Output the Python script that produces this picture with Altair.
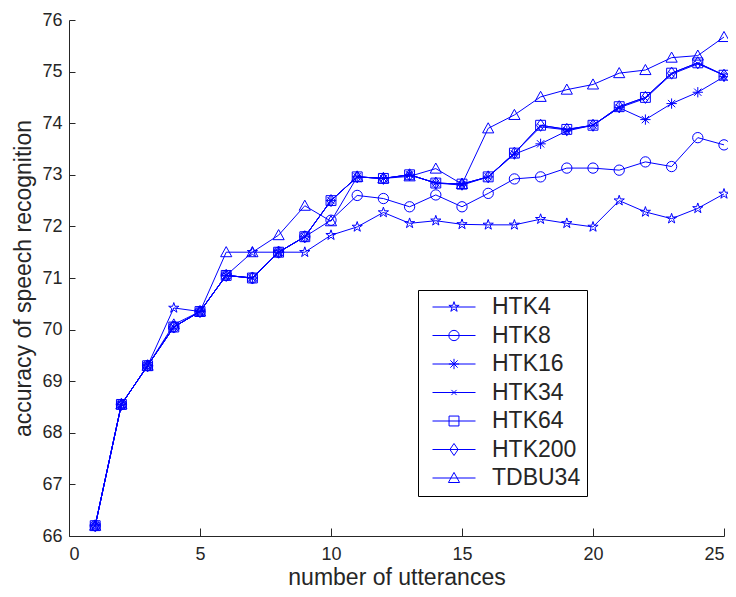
import altair as alt
import pandas as pd

utterances = list(range(1, 26))
series_names = ["HTK4", "HTK8", "HTK16", "HTK34", "HTK64", "HTK200", "TDBU34"]

htk4 = [66.2, 68.55, 69.3, 70.42, 70.35, 71.05, 71.5, 71.5, 71.5, 71.83, 71.99, 72.27, 72.06,
        72.11, 72.04, 72.03, 72.03, 72.14, 72.06, 71.99, 72.5, 72.28, 72.15, 72.35, 72.63]
htk8 = [66.2, 68.55, 69.3, 70.05, 70.35, 71.05, 71.0, 71.5, 71.8, 72.12, 72.6, 72.54, 72.38,
        72.61, 72.38, 72.64, 72.92, 72.96, 73.13, 73.13, 73.09, 73.25, 73.16, 73.72, 73.58]
htk16 = [66.2, 68.55, 69.3, 70.05, 70.35, 71.05, 71.0, 71.5, 71.8, 72.5, 72.96, 72.93, 73.0,
         72.84, 72.8, 72.96, 73.4, 73.6, 73.85, 73.96, 74.3, 74.07, 74.38, 74.6, 74.9]
htk34 = [66.2, 68.55, 69.3, 70.05, 70.35, 71.05, 71.0, 71.5, 71.8, 72.5, 72.96, 72.93, 73.0,
         72.84, 72.82, 72.96, 73.42, 73.93, 73.87, 73.96, 74.3, 74.48, 74.95, 75.15, 74.93]
htk64 = [66.2, 68.55, 69.3, 70.05, 70.35, 71.05, 71.0, 71.5, 71.8, 72.5, 72.96, 72.93, 73.0,
         72.84, 72.82, 72.96, 73.42, 73.96, 73.88, 73.96, 74.32, 74.5, 74.97, 75.17, 74.93]
htk200 = [66.2, 68.55, 69.3, 70.05, 70.35, 71.05, 71.0, 71.5, 71.8, 72.5, 72.96, 72.93, 73.0,
          72.84, 72.82, 72.96, 73.42, 73.96, 73.88, 73.96, 74.32, 74.5, 74.97, 75.17, 74.93]
tdbu34 = [66.2, 68.55, 69.3, 70.1, 70.35, 71.5, 71.5, 71.83, 72.4, 72.1, 72.96, 72.93, 72.97,
          73.12, 72.82, 73.9, 74.16, 74.51, 74.65, 74.75, 74.97, 75.03, 75.27, 75.31, 75.67]

x_ticks = [0, 5, 10, 15, 20, 25]
y_ticks = [66, 67, 68, 69, 70, 71, 72, 73, 74, 75, 76]

values = {"HTK4": htk4, "HTK8": htk8, "HTK16": htk16, "HTK34": htk34,
          "HTK64": htk64, "HTK200": htk200, "TDBU34": tdbu34}

line_names = [n + "_" for n in series_names]

rows = []
for name, lname in zip(series_names, line_names):
    for xv, yv in zip(utterances, values[name]):
        rows.append({"x": xv, "y": yv, "series": name, "series_line": lname})
df = pd.DataFrame(rows)

BLUE = "#0000ff"
AX = "#262626"
FONT = "Liberation Sans"

star = ("M0,-0.25L0.056,-0.077L0.238,-0.077L0.09,0.029L0.147,0.202L0,0.095"
        "L-0.147,0.202L-0.09,0.029L-0.238,-0.077L-0.056,-0.077Z")
circle = "M0.24,0A0.24,0.24,0,1,1,-0.24,0A0.24,0.24,0,1,1,0.24,0Z"
asterisk = "M0,-0.24L0,0.24M-0.24,0L0.24,0M-0.17,-0.17L0.17,0.17M-0.17,0.17L0.17,-0.17"
xmark = "M-0.12,-0.12L0.12,0.12M-0.12,0.12L0.12,-0.12"
square = "M-0.23,-0.23L0.23,-0.23L0.23,0.23L-0.23,0.23Z"
diamond = "M0,-0.28L0.19,0L0,0.28L-0.19,0Z"
triangle = "M0,-0.26L0.26,0.21L-0.26,0.21Z"
shape_paths = [star, circle, asterisk, xmark, square, diamond, triangle]

SYM = 1849
LEG_X, LEG_Y = 349, 270

x_scale = alt.Scale(domain=[0, 25], nice=False)
y_scale = alt.Scale(domain=[66, 76], nice=False, zero=False)

common_axis = dict(grid=False, labelFont=FONT, titleFont=FONT, labelColor=AX, titleColor=AX,
                   domainColor=AX, tickColor=AX, titleFontWeight="normal")

lines = alt.Chart(df).mark_line(strokeWidth=1).encode(
    x=alt.X("x:Q", scale=x_scale, axis=alt.Axis(
        orient="bottom", title="number of utterances", values=x_ticks, ticks=False, tickSize=0,
        labelPadding=9, labelFontSize=18, titleFontSize=23, titlePadding=3, **common_axis)),
    y=alt.Y("y:Q", scale=y_scale, axis=alt.Axis(
        orient="left", title="accuracy of speech recognition", values=y_ticks, ticks=False,
        tickSize=0, labelPadding=7, labelFontSize=18, titleFontSize=23, titlePadding=6,
        **common_axis)),
    stroke=alt.Stroke("series_line:N", scale=alt.Scale(domain=line_names, range=[BLUE] * 7),
                      legend=alt.Legend(orient="none", legendX=LEG_X, legendY=LEG_Y, title=None,
                                        symbolType="stroke", symbolSize=SYM, symbolStrokeWidth=1,
                                        labelExpr="''",
                                        labelFont=FONT, labelFontSize=23, labelOffset=16,
                                        symbolOffset=8, padding=6, clipHeight=22, rowPadding=5.5,
                                        fillColor="white")),
    order=alt.Order("x:Q"),
)

points = alt.Chart(df).mark_point(filled=False, strokeWidth=1, color=BLUE, size=SYM, opacity=1).encode(
    x=alt.X("x:Q", scale=x_scale, axis=alt.Axis(
        orient="bottom", title=None, labels=False, domain=False, ticks=True, tickSize=8,
        offset=-8, values=x_ticks, grid=False, tickColor=AX)),
    y=alt.Y("y:Q", scale=y_scale, axis=alt.Axis(
        orient="left", title=None, labels=False, domain=False, ticks=True, tickSize=6,
        offset=-6, values=y_ticks, grid=False, tickColor=AX)),
    shape=alt.Shape("series:N", scale=alt.Scale(domain=series_names, range=shape_paths),
                    legend=alt.Legend(orient="none", legendX=LEG_X, legendY=LEG_Y, title=None,
                                      symbolSize=SYM, symbolStrokeWidth=1,
                                      symbolStrokeColor=BLUE, symbolFillColor="transparent",
                                      labelExpr="datum.label + '\u00a0\u00a0\u00a0'",
                                      labelFont=FONT, labelFontSize=23, labelColor=AX,
                                      labelOffset=16, symbolOffset=8, padding=6,
                                      clipHeight=22, rowPadding=5.5, strokeColor="black")),
)

chart = alt.layer(lines, points).resolve_axis(x="independent", y="independent").properties(
    width=655, height=516,
    autosize=alt.AutoSizeParams(type="none"),
    padding={"left": 61, "top": 12, "right": 4, "bottom": 53},
).configure_view(strokeWidth=0)

chart.save("out.html", embed_options={"renderer": "svg", "actions": False})
